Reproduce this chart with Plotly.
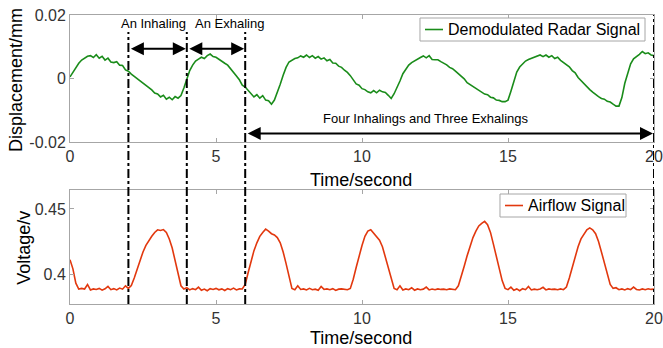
import plotly.graph_objects as go
from plotly.subplots import make_subplots

# ---------------- data ----------------
time_s = [round(i * 0.1, 1) for i in range(201)]

radar_mm = [
    0.0005, 0.0020, 0.0035, 0.0048, 0.0058, 0.0063, 0.0070, 0.0072, 0.0066, 0.0075,
    0.0064, 0.0070, 0.0058, 0.0064, 0.0052, 0.0050, 0.0053, 0.0042, 0.0041, 0.0027,
    0.0023, 0.0014, 0.0007, 0.0000, -0.0007, -0.0016, -0.0022, -0.0030, -0.0036, -0.0046,
    -0.0049, -0.0058, -0.0053, -0.0065, -0.0059, -0.0067, -0.0057, -0.0062, -0.0054, -0.0030,
    -0.0005, 0.0025, 0.0042, 0.0055, 0.0061, 0.0067, 0.0063, 0.0072, 0.0077, 0.0069,
    0.0067, 0.0060, 0.0055, 0.0048, 0.0042, 0.0031, 0.0022, 0.0008, -0.0004, -0.0021,
    -0.0027, -0.0038, -0.0048, -0.0058, -0.0051, -0.0062, -0.0054, -0.0068, -0.0070, -0.0081,
    -0.0068, -0.0045, -0.0018, 0.0010, 0.0035, 0.0052, 0.0058, 0.0063, 0.0065, 0.0071,
    0.0067, 0.0074, 0.0066, 0.0072, 0.0064, 0.0069, 0.0061, 0.0065, 0.0056, 0.0060,
    0.0049, 0.0048, 0.0039, 0.0035, 0.0026, 0.0019, 0.0009, -0.0003, -0.0017, -0.0021,
    -0.0032, -0.0035, -0.0042, -0.0045, -0.0038, -0.0045, -0.0037, -0.0042, -0.0044, -0.0053,
    -0.0063, -0.0048, -0.0030, -0.0008, 0.0015, 0.0030, 0.0042, 0.0050, 0.0056, 0.0062,
    0.0066, 0.0071, 0.0065, 0.0072, 0.0060, 0.0059, 0.0059, 0.0053, 0.0048, 0.0043,
    0.0035, 0.0031, 0.0023, 0.0015, 0.0007, -0.0001, -0.0013, -0.0019, -0.0025, -0.0030,
    -0.0037, -0.0041, -0.0049, -0.0051, -0.0059, -0.0061, -0.0068, -0.0069, -0.0073, -0.0073,
    -0.0068, -0.0040, -0.0008, 0.0020, 0.0036, 0.0046, 0.0055, 0.0060, 0.0064, 0.0067,
    0.0071, 0.0074, 0.0069, 0.0074, 0.0067, 0.0072, 0.0063, 0.0067, 0.0057, 0.0051,
    0.0043, 0.0037, 0.0025, 0.0018, 0.0003, -0.0007, -0.0017, -0.0025, -0.0035, -0.0043,
    -0.0051, -0.0057, -0.0063, -0.0065, -0.0072, -0.0074, -0.0081, -0.0087, -0.0087, -0.0060,
    -0.0015, 0.0020, 0.0046, 0.0062, 0.0068, 0.0076, 0.0085, 0.0078, 0.0081, 0.0074,
    0.0072,
]

airflow_v = [
    0.4110, 0.4040, 0.3930, 0.3885, 0.3890, 0.3885, 0.3920, 0.3878, 0.3886, 0.3882,
    0.3890, 0.3876, 0.3887, 0.3905, 0.3880, 0.3888, 0.3878, 0.3892, 0.3884, 0.3910,
    0.3890, 0.3912, 0.3970, 0.4040, 0.4110, 0.4170, 0.4220, 0.4260, 0.4290, 0.4320,
    0.4340, 0.4335, 0.4342, 0.4320, 0.4270, 0.4200, 0.4110, 0.4010, 0.3910, 0.3885,
    0.3895, 0.3878, 0.3888, 0.3880, 0.3900, 0.3876, 0.3885, 0.3872, 0.3888, 0.3882,
    0.3890, 0.3879, 0.3886, 0.3874, 0.3888, 0.3880, 0.3892, 0.3878, 0.3886, 0.3885,
    0.3920, 0.4010, 0.4100, 0.4180, 0.4240, 0.4290, 0.4320, 0.4345, 0.4330, 0.4310,
    0.4300, 0.4280, 0.4240, 0.4170, 0.4080, 0.3980, 0.3890, 0.3880, 0.3910, 0.3882,
    0.3886, 0.3878, 0.3890, 0.3880, 0.3884, 0.3876, 0.3905, 0.3882, 0.3886, 0.3880,
    0.3888, 0.3874, 0.3884, 0.3886, 0.3882, 0.3880, 0.3890, 0.3960, 0.4050, 0.4140,
    0.4220, 0.4290, 0.4330, 0.4340, 0.4315, 0.4290, 0.4260, 0.4210, 0.4130, 0.4040,
    0.3960, 0.3890, 0.3880, 0.3910, 0.3878, 0.3886, 0.3880, 0.3895, 0.3876, 0.3886,
    0.3880, 0.3884, 0.3900, 0.3878, 0.3885, 0.3880, 0.3886, 0.3882, 0.3884, 0.3880,
    0.3886, 0.3882, 0.3880, 0.3910, 0.3980, 0.4060, 0.4140, 0.4210, 0.4280, 0.4330,
    0.4370, 0.4390, 0.4405, 0.4380, 0.4320, 0.4230, 0.4130, 0.4030, 0.3950, 0.3890,
    0.3880, 0.3900, 0.3876, 0.3886, 0.3872, 0.3888, 0.3880, 0.3905, 0.3878, 0.3884,
    0.3880, 0.3886, 0.3898, 0.3878, 0.3886, 0.3882, 0.3884, 0.3880, 0.3886, 0.3880,
    0.3900, 0.3970, 0.4050, 0.4140, 0.4210, 0.4270, 0.4310, 0.4340, 0.4355, 0.4340,
    0.4310, 0.4250, 0.4170, 0.4080, 0.3990, 0.3920, 0.3890, 0.3895, 0.3880, 0.3886,
    0.3878, 0.3888, 0.3880, 0.3900, 0.3882, 0.3878, 0.3886, 0.3880, 0.3887, 0.3882,
    0.3884,
]

x_ticks = [0, 5, 10, 15, 20]
radar_ticks = [-0.02, 0, 0.02]
radar_tick_labels = ["-0.02", "0", "0.02"]
air_ticks = [0.40, 0.45]
air_tick_labels = ["0.4", "0.45"]

radar_name = "Demodulated Radar Signal"
airflow_name = "Airflow Signal"

phase_marks = [2, 4, 6]          # dashed vertical markers (short)
end_mark = 20                    # dashed vertical marker (full height)
inhale_span = [2, 4]
exhale_span = [4, 6]
multi_span = [6, 20]

# ---------------- figure ----------------
FONT = "Arial, 'Liberation Sans', sans-serif"
GREEN = "#1a8c1a"
RED = "#e2380e"
AXIS_GRAY = "#a6a6a6"

fig = make_subplots(rows=2, cols=1, shared_xaxes=False, vertical_spacing=0.0)

fig.add_trace(go.Scatter(x=time_s, y=radar_mm, mode="lines", name=radar_name,
                         line=dict(color=GREEN, width=1.6), showlegend=False), row=1, col=1)
fig.add_trace(go.Scatter(x=time_s, y=airflow_v, mode="lines", name=airflow_name,
                         line=dict(color=RED, width=1.6), showlegend=False), row=2, col=1)

axis_common = dict(showgrid=False, zeroline=False, showline=True, mirror="ticks",
                   linecolor=AXIS_GRAY, linewidth=1, ticks="inside", ticklen=4,
                   tickcolor=AXIS_GRAY, automargin=False,
                   tickfont=dict(family=FONT, size=16, color="#333333"))

fig.update_xaxes(range=[0, 20], tickvals=x_ticks, domain=[0, 1], **axis_common)
fig.update_yaxes(range=[-0.02, 0.02], tickvals=radar_ticks, ticktext=radar_tick_labels,
                 domain=[0.5606, 1.0], row=1, col=1, **axis_common)
fig.update_yaxes(range=[0.377, 0.4646], tickvals=air_ticks, ticktext=air_tick_labels,
                 domain=[0.0, 0.3945], row=2, col=1, **axis_common)

shapes = []
for m in phase_marks:
    shapes.append(dict(type="line", xref="x", yref="paper", x0=m, x1=m, y0=0.0, y1=0.941,
                       line=dict(color="black", width=2, dash="dashdot")))
shapes.append(dict(type="line", xref="x", yref="paper", x0=end_mark, x1=end_mark, y0=0.0, y1=1.0,
                   line=dict(color="black", width=2, dash="dashdot")))

# legend boxes (drawn so their size matches the original compact legends)
legend_specs = [
    dict(name=radar_name, color=GREEN, box=(0.5993, 0.9846, 0.910, 0.9896),
         line=(0.6079, 0.6387), ymid=0.9498, tx=0.6438),
    dict(name=airflow_name, color=RED, box=(0.7363, 0.9521, 0.301, 0.3806),
         line=(0.7449, 0.7757), ymid=0.3408, tx=0.7808),
]
annotations = []
for spec in legend_specs:
    x0, x1, y0, y1 = spec["box"]
    shapes.append(dict(type="rect", xref="paper", yref="paper", x0=x0, x1=x1, y0=y0, y1=y1,
                       line=dict(color=AXIS_GRAY, width=1), fillcolor="white", layer="above"))
    shapes.append(dict(type="line", xref="paper", yref="paper", x0=spec["line"][0], x1=spec["line"][1],
                       y0=spec["ymid"], y1=spec["ymid"], line=dict(color=spec["color"], width=1.6),
                       layer="above"))
    annotations.append(dict(x=spec["tx"], y=spec["ymid"], xref="paper", yref="paper", text=spec["name"],
                            showarrow=False, xanchor="left", yanchor="middle",
                            font=dict(family=FONT, size=16, color="black")))

arrow_style = dict(showarrow=True, arrowhead=2, startarrowhead=2, arrowside="end+start",
                   arrowsize=1.3, arrowwidth=2, arrowcolor="black", axref="x", ayref="y",
                   xref="x", yref="y", text="", standoff=1, startstandoff=1)
y_arrow1 = 0.0094
y_arrow2 = -0.0173
annotations.append(dict(x=inhale_span[1], y=y_arrow1, ax=inhale_span[0], ay=y_arrow1, **arrow_style))
annotations.append(dict(x=exhale_span[1], y=y_arrow1, ax=exhale_span[0], ay=y_arrow1, **arrow_style))
annotations.append(dict(x=multi_span[1], y=y_arrow2, ax=multi_span[0], ay=y_arrow2, **arrow_style))

label_font = dict(family=FONT, size=13, color="black")
annotations.append(dict(x=2.86, y=0.0173, xref="x", yref="y", text="An Inhaling", showarrow=False, font=label_font))
annotations.append(dict(x=5.45, y=0.0173, xref="x", yref="y", text="An Exhaling", showarrow=False, font=label_font))
annotations.append(dict(x=12.19, y=-0.0126, xref="x", yref="y", text="Four Inhalings and Three Exhalings",
                        showarrow=False, font=label_font))

title_font = dict(family=FONT, size=18, color="black")
annotations.append(dict(x=-0.0925, y=0.775, xref="paper", yref="paper", text="Displacement/mm",
                        textangle=-90, showarrow=False, font=title_font, xanchor="center", yanchor="middle"))
annotations.append(dict(x=-0.079, y=0.194, xref="paper", yref="paper", text="Voltage/v",
                        textangle=-90, showarrow=False, font=title_font, xanchor="center", yanchor="middle"))
annotations.append(dict(x=0.498, y=0.429, xref="paper", yref="paper", text="Time/second",
                        showarrow=False, font=title_font, xanchor="center", yanchor="middle"))
annotations.append(dict(x=0.498, y=-0.1176, xref="paper", yref="paper", text="Time/second",
                        showarrow=False, font=title_font, xanchor="center", yanchor="middle"))

fig.update_layout(
    width=663, height=348,
    margin=dict(l=70, r=9, t=15, b=44),
    paper_bgcolor="white", plot_bgcolor="white",
    showlegend=False,
    shapes=shapes,
    annotations=annotations,
)

fig.write_html("out.html", config={"displayModeBar": False},
               post_script="document.body.style.margin='0';document.body.style.padding='0';")
